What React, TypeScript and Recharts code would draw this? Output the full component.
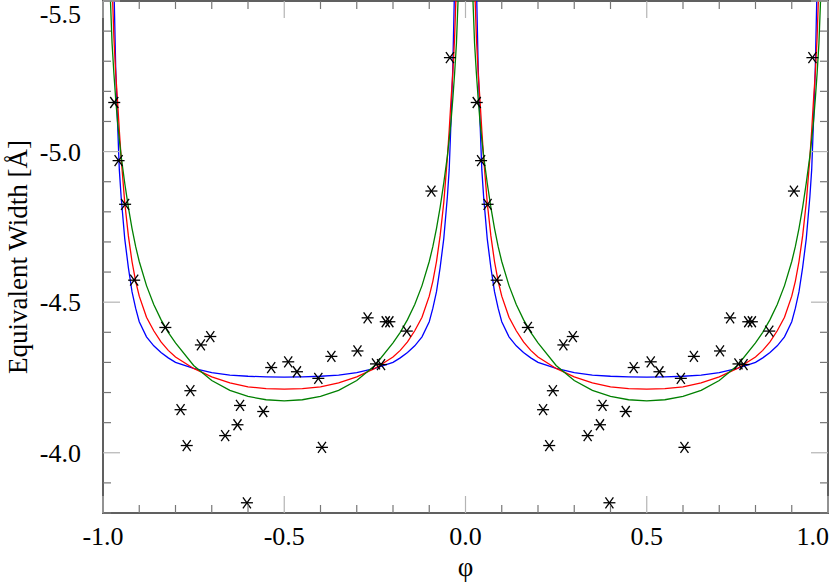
import React from 'react';
import { ComposedChart, Line, Scatter, XAxis, YAxis, ReferenceArea } from 'recharts';

const W = 830;
const H = 585;
// axis boxes are 1px thick (an axis of size 0 is not drawn)
const M = { top: 1, right: 2, bottom: 71, left: 102 };
const PLOT_LEFT = M.left + 1;
const PLOT_W = W - PLOT_LEFT - M.right;
const PLOT_H = H - M.top - M.bottom - 1;
const FONT = '"Liberation Serif", "Times New Roman", serif';

// model curves, one cycle of phase (drawn again at phase - 1)
const modelPhase = [
  0.01, 0.015, 0.02, 0.025, 0.03, 0.035, 0.04, 0.045, 0.05, 0.06, 0.07, 0.08, 0.09, 0.1,
  0.12, 0.14, 0.16, 0.18, 0.2, 0.25, 0.3, 0.35, 0.4, 0.45, 0.5,
  0.55, 0.6, 0.65, 0.7, 0.75, 0.8, 0.82, 0.84, 0.86, 0.88, 0.9,
  0.91, 0.92, 0.93, 0.94, 0.95, 0.955, 0.96, 0.965, 0.97, 0.975, 0.98, 0.985, 0.99,
];
const blueEW = [
  -7, -6.6, -6.3, -5.95, -5.56, -5.28, -5.1, -4.94, -4.85, -4.71, -4.615, -4.535, -4.48, -4.435,
  -4.385, -4.355, -4.333, -4.315, -4.3, -4.28, -4.266, -4.258, -4.254, -4.252, -4.251,
  -4.252, -4.254, -4.258, -4.266, -4.28, -4.3, -4.315, -4.333, -4.355, -4.385, -4.435,
  -4.48, -4.535, -4.615, -4.71, -4.85, -4.94, -5.1, -5.28, -5.56, -5.95, -6.3, -6.6, -7,
];
const redEW = [
  -7, -6.5, -5.95, -5.56, -5.38, -5.26, -5.17, -5.07, -4.98, -4.83, -4.72, -4.635, -4.57, -4.52,
  -4.45, -4.405, -4.368, -4.34, -4.318, -4.28, -4.252, -4.232, -4.219, -4.213, -4.211,
  -4.213, -4.219, -4.232, -4.252, -4.28, -4.318, -4.34, -4.368, -4.405, -4.45, -4.52,
  -4.57, -4.635, -4.72, -4.83, -4.98, -5.07, -5.17, -5.26, -5.38, -5.56, -5.95, -6.5, -7,
];
const greenEW = [
  -6.3, -5.85, -5.52, -5.36, -5.26, -5.175, -5.1, -5.04, -4.985, -4.895, -4.815, -4.745, -4.685, -4.635,
  -4.555, -4.492, -4.442, -4.4, -4.365, -4.29, -4.24, -4.207, -4.187, -4.176, -4.172,
  -4.176, -4.187, -4.207, -4.24, -4.29, -4.365, -4.4, -4.442, -4.492, -4.555, -4.635,
  -4.685, -4.745, -4.815, -4.895, -4.985, -5.04, -5.1, -5.175, -5.26, -5.36, -5.52, -5.85, -6.3,
];

// observed equivalent widths, one cycle of phase
const obsPhase = [
  0.031, 0.043, 0.061, 0.086, 0.172, 0.214, 0.231, 0.241, 0.27, 0.296, 0.337, 0.371, 0.378, 0.397, 0.442,
  0.464, 0.511, 0.535, 0.594, 0.604, 0.63, 0.702, 0.73, 0.753, 0.767, 0.78, 0.79, 0.838, 0.906, 0.957,
];
const obsEW = [
  -5.163, -4.97, -4.825, -4.573, -4.416, -4.143, -4.024, -4.206, -4.358, -4.386, -4.057, -4.093, -4.157, -3.834, -4.137,
  -4.283, -4.302, -4.269, -4.247, -4.018, -4.32, -4.338, -4.448, -4.295, -4.293, -4.435, -4.435, -4.404, -4.869, -5.312,
];

const xTicks = [-1, -0.9, -0.8, -0.7, -0.6, -0.5, -0.4, -0.3, -0.2, -0.1, 0, 0.1, 0.2, 0.3, 0.4, 0.5, 0.6, 0.7, 0.8, 0.9, 1];
const xMajor = [-1, -0.5, 0, 0.5, 1];
const xLabels = ['-1.0', '-0.5', '0.0', '0.5', '1.0'];
const yTicks = [-5.5, -5.4, -5.3, -5.2, -5.1, -5, -4.9, -4.8, -4.7, -4.6, -4.5, -4.4, -4.3, -4.2, -4.1, -4, -3.9, -3.8];
const yMajor = [-5.5, -5, -4.5, -4];
const yLabels = ['-5.5', '-5.0', '-4.5', '-4.0'];

const curveRows = [
  ...modelPhase.map((p, i) => ({ phi: p - 1, blue: blueEW[i], red: redEW[i], green: greenEW[i] })),
  ...modelPhase.map((p, i) => ({ phi: p, blue: blueEW[i], red: redEW[i], green: greenEW[i] })),
];
const obsRows = [
  ...obsPhase.map((p, i) => ({ phi: p - 1, ew: obsEW[i] })),
  ...obsPhase.map((p, i) => ({ phi: p, ew: obsEW[i] })),
];

const MAJOR_LEN = 17;
const MINOR_LEN = 8;
const MAJOR_COLOR = '#b4b4b4';
const MINOR_COLOR = '#777';
const PLOT_BOTTOM = M.top + PLOT_H;

const XTick = (props: any) => {
  const { x, payload } = props;
  const idx = xMajor.findIndex((v) => Math.abs(v - payload.value) < 1e-9);
  const len = idx >= 0 ? MAJOR_LEN : MINOR_LEN;
  const col = idx >= 0 ? MAJOR_COLOR : MINOR_COLOR;
  const y = PLOT_BOTTOM;
  const top = M.top;
  // keep the last label inside the picture, as in the original
  const lastLabel = idx === xMajor.length - 1;
  return (
    <g>
      <line x1={x} y1={y} x2={x} y2={y - len} stroke={col} strokeWidth={1.2} />
      <line x1={x} y1={top} x2={x} y2={top + len} stroke={col} strokeWidth={1.2} />
      {idx >= 0 && (
        <text
          x={lastLabel ? W - 1 : x}
          y={y + 32}
          textAnchor={lastLabel ? 'end' : 'middle'}
          fontFamily={FONT}
          fontSize={26}
          fill="#000"
        >
          {xLabels[idx]}
        </text>
      )}
    </g>
  );
};

const YTick = (props: any) => {
  const { y, payload } = props;
  const idx = yMajor.findIndex((v) => Math.abs(v - payload.value) < 1e-9);
  const len = idx >= 0 ? MAJOR_LEN : MINOR_LEN;
  const col = idx >= 0 ? MAJOR_COLOR : MINOR_COLOR;
  const x = PLOT_LEFT;
  const right = x + PLOT_W;
  return (
    <g>
      <line x1={x} y1={y} x2={x + len} y2={y} stroke={col} strokeWidth={1.2} />
      <line x1={right} y1={y} x2={right - len} y2={y} stroke={col} strokeWidth={1.2} />
      {idx >= 0 && (
        <text x={x - 22} y={Math.max(y + 9, 23)} textAnchor="end" fontFamily={FONT} fontSize={26} fill="#000">
          {yLabels[idx]}
        </text>
      )}
    </g>
  );
};

// gnuplot-like asterisk marker
const Asterisk = (props: any) => {
  const { cx, cy } = props;
  if (cx == null || cy == null) return <g />;
  return (
    <g stroke="#000" strokeWidth={1.3}>
      <line x1={cx - 6} y1={cy} x2={cx + 6} y2={cy} />
      <line x1={cx - 4} y1={cy - 5.5} x2={cx + 4} y2={cy + 5.5} />
      <line x1={cx - 4} y1={cy + 5.5} x2={cx + 4} y2={cy - 5.5} />
    </g>
  );
};

export default function App() {
  return (
    <div style={{ position: 'absolute', left: 0, top: 0, width: W, height: H, background: '#fff' }}>
      <ComposedChart width={W} height={H} data={curveRows} margin={M}>
        <XAxis
          dataKey="phi"
          type="number"
          domain={[-1, 1]}
          allowDataOverflow
          ticks={xTicks}
          interval={0}
          height={1}
          tickSize={0}
          tickMargin={0}
          axisLine={false}
          tickLine={false}
          tick={XTick}
          label={{
            content: () => (
              <text x={PLOT_LEFT + PLOT_W / 2} y={576} textAnchor="middle" fontFamily={FONT} fontSize={27} fill="#000">
                φ
              </text>
            ),
          }}
        />
        <YAxis
          type="number"
          domain={[-5.5, -3.8]}
          reversed
          allowDataOverflow
          ticks={yTicks}
          interval={0}
          width={1}
          tickSize={0}
          tickMargin={0}
          axisLine={false}
          tickLine={false}
          tick={YTick}
          label={{
            content: () => (
              <text
                x={27}
                y={M.top + PLOT_H / 2}
                transform={`rotate(-90, 27, ${M.top + PLOT_H / 2})`}
                textAnchor="middle"
                fontFamily={FONT}
                fontSize={27}
                fill="#000"
              >
                Equivalent Width [Å]
              </text>
            ),
          }}
        />
        <Line type="linear" dataKey="blue" stroke="#0000ff" strokeWidth={1.3} dot={false} isAnimationActive={false} />
        <Line type="linear" dataKey="red" stroke="#ff0000" strokeWidth={1.3} dot={false} isAnimationActive={false} />
        <Line type="linear" dataKey="green" stroke="#008000" strokeWidth={1.3} dot={false} isAnimationActive={false} />
        <Scatter data={obsRows} dataKey="ew" shape={Asterisk} isAnimationActive={false} />
        <ReferenceArea x1={-1} x2={1} y1={-5.5} y2={-3.8} fill="none" stroke="#606060" strokeWidth={2} fillOpacity={0} />
      </ComposedChart>
    </div>
  );
}
